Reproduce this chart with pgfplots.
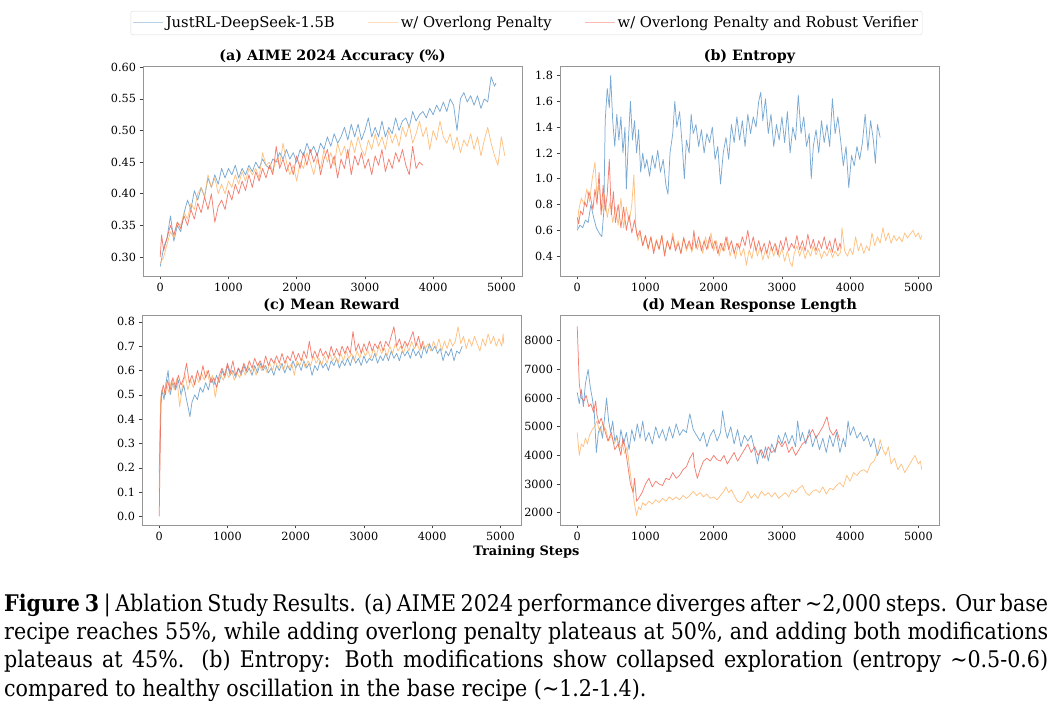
\documentclass[border=0pt]{standalone}
\usepackage{fontspec}
\setmainfont{DejaVu Serif}
\newfontfamily\capfont[FakeStretch=0.9]{DejaVu Serif}
\usepackage{pgfplots}
\pgfplotsset{compat=1.18}

\definecolor{spine}{RGB}{150,150,150}
\definecolor{blueC}{RGB}{98,154,202}
\definecolor{orangeC}{RGB}{253,183,108}
\definecolor{redC}{RGB}{240,104,88}

\pgfplotsset{
  panel/.style={
    scale only axis, width=379bp, height=210bp,
    xmin=-252.5, xmax=5302.5,
    xtick={0,1000,2000,3000,4000,5000},
    axis line style={spine, line width=0.8bp},
    tick align=outside, major tick length=3.5bp,
    tick style={black!75, line width=0.6bp},
    xtick pos=bottom, ytick pos=left,
    ticklabel style={font=\fontsize{11.3}{13}\selectfont},
    /pgf/number format/assume math mode=true,
    /pgf/number format/1000 sep={},
    scaled ticks=false,
    title style={font=\fontsize{14.3}{16}\selectfont\bfseries,
      at={(0.5,1)}, anchor=base, inner sep=0pt},
    every axis plot/.append style={line width=0.75bp, opacity=0.85, line join=round},
  },
  blueL/.style={blueC},
  orangeL/.style={orangeC},
  redL/.style={redC},
}

\begin{document}
\begin{tikzpicture}
\path[use as bounding box] (0bp,0bp) rectangle (1056bp,708bp);

% (a) AIME accuracy
\begin{axis}[panel, at={(143bp,432bp)},
  ymin=0.270, ymax=0.602,
  ytick={0.30,0.35,0.40,0.45,0.50,0.55,0.60},
  yticklabel style={/pgf/number format/.cd, fixed, fixed zerofill, precision=2},
  title={(a) AIME 2024 Accuracy (\%)},
  legend columns=3,
  legend style={at={(1.0119,1.2048)}, anchor=center, draw={rgb,255:red,220;green,220;blue,220},
    rounded corners=2bp, font=\fontsize{14.8}{17}\selectfont, inner ysep=3.5bp, inner xsep=2bp,
    /tikz/every even column/.append style={column sep=31bp}},
  legend image code/.code={\draw[#1, opacity=0.45, line width=1bp] (0bp,0bp) -- (30bp,0bp);},
]
\addplot[blueL] coordinates {(0,0.285)(50,0.315)(100,0.33)(150,0.365)(200,0.325)(250,0.35)(300,0.34)(350,0.37)(400,0.39)(450,0.375)(500,0.405)(550,0.39)(600,0.41)(650,0.395)(700,0.425)(750,0.41)(800,0.43)(850,0.415)(900,0.44)(950,0.425)(1000,0.44)(1050,0.43)(1100,0.445)(1150,0.425)(1200,0.44)(1250,0.43)(1300,0.445)(1350,0.435)(1400,0.45)(1450,0.44)(1500,0.455)(1550,0.445)(1600,0.44)(1650,0.455)(1700,0.45)(1750,0.465)(1800,0.455)(1850,0.47)(1900,0.455)(1950,0.465)(2000,0.45)(2050,0.47)(2100,0.46)(2150,0.48)(2200,0.465)(2250,0.475)(2300,0.46)(2350,0.48)(2400,0.47)(2450,0.49)(2500,0.475)(2550,0.495)(2600,0.48)(2650,0.49)(2700,0.505)(2750,0.485)(2800,0.51)(2850,0.49)(2900,0.51)(2950,0.485)(3000,0.5)(3050,0.52)(3100,0.49)(3150,0.505)(3200,0.49)(3250,0.515)(3300,0.49)(3350,0.505)(3400,0.495)(3450,0.52)(3500,0.5)(3550,0.515)(3600,0.52)(3650,0.505)(3700,0.53)(3750,0.515)(3800,0.525)(3850,0.53)(3900,0.52)(3950,0.535)(4000,0.525)(4050,0.54)(4100,0.53)(4150,0.545)(4200,0.53)(4250,0.55)(4300,0.54)(4350,0.50)(4400,0.55)(4450,0.56)(4500,0.545)(4550,0.555)(4600,0.54)(4650,0.555)(4700,0.535)(4750,0.55)(4800,0.545)(4850,0.585)(4900,0.57)(4920,0.575)};
\addlegendentry{JustRL-DeepSeek-1.5B}
\addplot[orangeL] coordinates {(0,0.29)(50,0.30)(100,0.32)(150,0.34)(200,0.33)(250,0.355)(300,0.35)(350,0.37)(400,0.36)(450,0.385)(500,0.375)(550,0.40)(600,0.41)(650,0.395)(700,0.43)(750,0.41)(800,0.425)(850,0.40)(900,0.415)(950,0.40)(1000,0.42)(1050,0.41)(1100,0.43)(1150,0.415)(1200,0.435)(1250,0.42)(1300,0.44)(1350,0.43)(1400,0.44)(1450,0.425)(1500,0.465)(1550,0.445)(1600,0.45)(1650,0.435)(1700,0.455)(1750,0.445)(1800,0.48)(1850,0.45)(1900,0.43)(1950,0.445)(2000,0.42)(2050,0.45)(2100,0.44)(2150,0.465)(2200,0.45)(2250,0.43)(2300,0.455)(2350,0.44)(2400,0.47)(2450,0.45)(2500,0.465)(2550,0.445)(2600,0.48)(2650,0.46)(2700,0.475)(2750,0.455)(2800,0.485)(2850,0.465)(2900,0.49)(2950,0.47)(3000,0.46)(3050,0.485)(3100,0.47)(3150,0.495)(3200,0.475)(3250,0.49)(3300,0.47)(3350,0.5)(3400,0.48)(3450,0.495)(3500,0.475)(3550,0.505)(3600,0.49)(3650,0.51)(3700,0.48)(3750,0.495)(3800,0.515)(3850,0.49)(3900,0.505)(3950,0.47)(4000,0.50)(4050,0.485)(4100,0.515)(4150,0.49)(4200,0.48)(4250,0.495)(4300,0.47)(4350,0.49)(4400,0.465)(4450,0.485)(4500,0.475)(4550,0.495)(4600,0.47)(4650,0.49)(4700,0.46)(4750,0.485)(4800,0.505)(4850,0.48)(4900,0.46)(4950,0.445)(5000,0.49)(5050,0.46)};
\addlegendentry{w/ Overlong Penalty}
\addplot[redL] coordinates {(0,0.30)(20,0.335)(50,0.31)(100,0.33)(150,0.35)(200,0.335)(250,0.355)(300,0.345)(350,0.365)(400,0.35)(450,0.375)(500,0.36)(550,0.385)(600,0.37)(650,0.395)(700,0.375)(750,0.40)(800,0.355)(850,0.38)(900,0.39)(950,0.375)(1000,0.405)(1050,0.39)(1100,0.415)(1150,0.40)(1200,0.42)(1250,0.405)(1300,0.43)(1350,0.41)(1400,0.435)(1450,0.42)(1500,0.44)(1550,0.425)(1600,0.445)(1650,0.43)(1700,0.475)(1750,0.44)(1800,0.455)(1850,0.435)(1900,0.45)(1950,0.43)(2000,0.46)(2050,0.44)(2100,0.465)(2150,0.445)(2200,0.47)(2250,0.45)(2300,0.465)(2350,0.43)(2400,0.455)(2450,0.47)(2500,0.44)(2550,0.46)(2600,0.425)(2650,0.455)(2700,0.44)(2750,0.47)(2800,0.43)(2850,0.46)(2900,0.445)(2950,0.465)(3000,0.44)(3050,0.455)(3100,0.43)(3150,0.46)(3200,0.445)(3250,0.47)(3300,0.435)(3350,0.455)(3400,0.44)(3450,0.465)(3500,0.45)(3550,0.47)(3600,0.445)(3650,0.43)(3700,0.475)(3750,0.44)(3800,0.45)(3850,0.445)};
\addlegendentry{w/ Overlong Penalty and Robust Verifier}
\end{axis}

% (b) Entropy
\begin{axis}[panel, at={(560bp,432bp)},
  ymin=0.246, ymax=1.874,
  ytick={0.4,0.6,0.8,1.0,1.2,1.4,1.6,1.8},
  yticklabel style={/pgf/number format/.cd, fixed, fixed zerofill, precision=1},
  title={(b) Entropy},
]
\addplot[blueL] coordinates {(0,0.60)(40,0.64)(80,0.62)(120,0.68)(160,0.66)(200,0.80)(240,0.70)(280,0.62)(320,0.58)(360,0.55)(390,0.75)(410,1.45)(440,1.70)(470,1.55)(490,1.80)(520,1.45)(550,1.25)(580,1.50)(610,1.30)(640,1.48)(670,1.20)(700,1.40)(720,0.92)(750,1.30)(780,1.60)(810,1.30)(840,1.45)(870,1.20)(900,1.38)(930,1.05)(960,1.20)(990,1.08)(1020,1.15)(1060,1.02)(1100,1.18)(1140,1.08)(1180,1.22)(1220,1.05)(1260,1.15)(1300,0.95)(1330,0.88)(1360,1.20)(1400,1.35)(1430,1.60)(1460,1.40)(1500,1.52)(1540,1.25)(1570,1.00)(1600,1.30)(1640,1.20)(1670,1.50)(1700,1.35)(1740,1.42)(1780,1.25)(1820,1.38)(1860,1.20)(1900,1.35)(1940,1.28)(1980,1.40)(2020,1.15)(2060,1.25)(2100,0.96)(2140,1.20)(2180,1.32)(2220,1.15)(2260,1.42)(2300,1.28)(2340,1.48)(2380,1.30)(2420,1.45)(2460,1.25)(2500,1.50)(2540,1.35)(2580,1.48)(2620,1.40)(2660,1.60)(2690,1.67)(2720,1.45)(2760,1.62)(2800,1.35)(2840,1.50)(2880,1.25)(2920,1.42)(2960,1.30)(3000,1.48)(3040,1.28)(3080,1.52)(3120,1.20)(3160,1.40)(3200,1.30)(3240,1.65)(3280,1.35)(3320,1.48)(3360,1.25)(3400,1.35)(3430,1.00)(3460,1.25)(3500,1.38)(3540,1.20)(3580,1.45)(3620,1.28)(3660,1.42)(3700,1.25)(3740,1.62)(3780,1.35)(3820,1.48)(3860,1.30)(3900,1.10)(3940,1.25)(3980,0.93)(4020,1.18)(4060,1.10)(4100,1.25)(4140,1.15)(4180,1.28)(4220,1.50)(4260,1.22)(4300,1.45)(4340,1.30)(4370,1.12)(4400,1.42)(4440,1.32)};
\addplot[orangeL] coordinates {(0,0.60)(20,0.75)(60,0.85)(100,0.80)(140,0.92)(180,0.82)(220,1.00)(260,1.13)(290,0.85)(320,0.95)(360,0.75)(400,0.88)(440,0.70)(480,0.82)(520,0.66)(560,0.78)(600,0.64)(640,0.85)(680,0.62)(720,0.78)(760,0.66)(800,0.80)(830,1.03)(860,0.62)(890,0.52)(920,0.58)(960,0.48)(1000,0.56)(1040,0.45)(1080,0.55)(1120,0.44)(1160,0.53)(1200,0.46)(1240,0.56)(1280,0.42)(1320,0.52)(1360,0.45)(1400,0.58)(1440,0.46)(1480,0.52)(1520,0.42)(1560,0.55)(1600,0.44)(1640,0.50)(1680,0.43)(1720,0.54)(1760,0.45)(1800,0.52)(1840,0.42)(1880,0.55)(1920,0.46)(1960,0.58)(2000,0.44)(2040,0.52)(2080,0.40)(2120,0.50)(2160,0.44)(2200,0.55)(2240,0.40)(2280,0.48)(2320,0.38)(2360,0.50)(2400,0.40)(2440,0.46)(2480,0.33)(2520,0.45)(2560,0.38)(2600,0.50)(2640,0.40)(2680,0.47)(2720,0.37)(2760,0.45)(2800,0.38)(2840,0.47)(2880,0.40)(2920,0.48)(2960,0.39)(3000,0.46)(3040,0.36)(3080,0.44)(3120,0.35)(3150,0.32)(3180,0.42)(3220,0.48)(3260,0.40)(3300,0.47)(3340,0.38)(3380,0.45)(3420,0.40)(3460,0.48)(3500,0.41)(3540,0.46)(3580,0.38)(3620,0.44)(3660,0.40)(3700,0.46)(3740,0.39)(3780,0.44)(3820,0.40)(3860,0.43)(3880,0.62)(3920,0.44)(3960,0.40)(4000,0.46)(4040,0.41)(4080,0.55)(4120,0.44)(4160,0.50)(4200,0.42)(4240,0.48)(4280,0.44)(4320,0.58)(4360,0.48)(4400,0.55)(4440,0.50)(4480,0.62)(4520,0.52)(4560,0.58)(4600,0.50)(4640,0.56)(4680,0.52)(4720,0.55)(4760,0.51)(4800,0.58)(4840,0.54)(4880,0.57)(4920,0.60)(4960,0.55)(5000,0.58)(5030,0.53)(5050,0.56)};
\addplot[redL] coordinates {(0,0.70)(20,0.65)(50,0.75)(80,0.72)(110,0.82)(140,0.78)(170,0.90)(200,0.84)(230,0.76)(260,0.92)(290,0.80)(320,1.05)(350,0.72)(380,0.95)(410,0.75)(440,0.88)(470,1.15)(500,0.72)(530,0.90)(560,0.66)(600,0.80)(640,0.62)(680,0.78)(720,0.60)(760,0.72)(800,0.58)(840,0.68)(880,0.55)(920,0.60)(960,0.48)(1000,0.56)(1040,0.46)(1080,0.55)(1120,0.42)(1160,0.52)(1200,0.45)(1240,0.56)(1280,0.40)(1320,0.52)(1360,0.45)(1400,0.55)(1440,0.44)(1480,0.50)(1520,0.42)(1560,0.54)(1600,0.46)(1640,0.52)(1680,0.45)(1710,0.60)(1740,0.46)(1780,0.55)(1820,0.44)(1860,0.52)(1900,0.45)(1940,0.55)(1980,0.46)(2020,0.52)(2060,0.42)(2100,0.50)(2140,0.44)(2180,0.55)(2220,0.45)(2260,0.52)(2300,0.42)(2340,0.50)(2380,0.46)(2420,0.55)(2460,0.48)(2500,0.60)(2540,0.46)(2580,0.55)(2620,0.44)(2660,0.52)(2700,0.43)(2740,0.50)(2780,0.42)(2820,0.52)(2860,0.44)(2900,0.50)(2940,0.41)(2980,0.52)(3020,0.45)(3060,0.55)(3100,0.44)(3140,0.50)(3180,0.46)(3220,0.56)(3260,0.45)(3300,0.52)(3340,0.44)(3380,0.57)(3420,0.46)(3460,0.53)(3500,0.44)(3540,0.52)(3580,0.46)(3620,0.55)(3660,0.45)(3700,0.52)(3740,0.43)(3780,0.54)(3820,0.44)(3850,0.50)(3870,0.46)};
\end{axis}

% (c) Mean reward
\begin{axis}[panel, at={(142bp,183bp)},
  ymin=-0.035, ymax=0.828,
  ytick={0,0.1,0.2,0.3,0.4,0.5,0.6,0.7,0.8},
  yticklabel style={/pgf/number format/.cd, fixed, fixed zerofill, precision=1},
  title={(c) Mean Reward},
]
\addplot[blueL] coordinates {(0,0.18)(20,0.45)(40,0.52)(70,0.48)(100,0.55)(130,0.60)(160,0.50)(200,0.55)(240,0.52)(280,0.56)(320,0.50)(360,0.54)(400,0.48)(430,0.44)(450,0.41)(480,0.47)(520,0.50)(560,0.48)(600,0.53)(640,0.51)(680,0.55)(720,0.52)(760,0.57)(800,0.54)(840,0.58)(880,0.55)(920,0.60)(960,0.57)(1000,0.62)(1040,0.58)(1080,0.60)(1120,0.57)(1160,0.61)(1200,0.58)(1240,0.62)(1280,0.59)(1320,0.61)(1360,0.58)(1400,0.62)(1440,0.59)(1480,0.63)(1520,0.60)(1560,0.62)(1600,0.59)(1640,0.61)(1680,0.58)(1720,0.62)(1760,0.60)(1800,0.63)(1840,0.59)(1880,0.62)(1920,0.60)(1960,0.64)(2000,0.61)(2040,0.63)(2080,0.60)(2120,0.64)(2160,0.61)(2200,0.63)(2240,0.58)(2280,0.62)(2320,0.60)(2360,0.64)(2400,0.61)(2440,0.63)(2480,0.60)(2520,0.64)(2560,0.62)(2600,0.65)(2640,0.61)(2680,0.64)(2720,0.62)(2760,0.65)(2800,0.62)(2840,0.66)(2880,0.63)(2920,0.65)(2960,0.62)(3000,0.66)(3040,0.63)(3080,0.65)(3120,0.64)(3160,0.67)(3200,0.63)(3240,0.66)(3280,0.64)(3320,0.67)(3360,0.64)(3400,0.68)(3440,0.65)(3480,0.67)(3520,0.64)(3560,0.68)(3600,0.66)(3640,0.68)(3680,0.65)(3720,0.69)(3760,0.66)(3800,0.68)(3840,0.65)(3880,0.70)(3920,0.67)(3960,0.71)(4000,0.68)(4040,0.70)(4080,0.67)(4120,0.69)(4160,0.64)(4200,0.68)(4240,0.66)(4280,0.69)(4320,0.64)(4360,0.68)(4400,0.67)(4440,0.70)};
\addplot[orangeL] coordinates {(0,0.10)(20,0.48)(40,0.52)(70,0.50)(100,0.55)(140,0.51)(180,0.56)(220,0.52)(260,0.57)(300,0.45)(340,0.54)(380,0.58)(420,0.52)(460,0.56)(500,0.53)(540,0.58)(580,0.55)(620,0.59)(660,0.56)(700,0.60)(740,0.55)(780,0.58)(820,0.49)(860,0.55)(900,0.58)(940,0.56)(980,0.60)(1020,0.57)(1060,0.60)(1100,0.56)(1140,0.59)(1180,0.57)(1220,0.61)(1260,0.58)(1300,0.62)(1340,0.59)(1380,0.62)(1420,0.58)(1460,0.63)(1500,0.60)(1540,0.62)(1580,0.59)(1620,0.63)(1660,0.60)(1700,0.64)(1740,0.61)(1780,0.63)(1820,0.60)(1860,0.64)(1900,0.61)(1940,0.63)(1980,0.58)(2020,0.64)(2060,0.62)(2100,0.65)(2140,0.61)(2180,0.64)(2220,0.62)(2260,0.66)(2300,0.63)(2340,0.65)(2380,0.62)(2420,0.66)(2460,0.63)(2500,0.67)(2540,0.64)(2580,0.66)(2620,0.63)(2660,0.67)(2700,0.64)(2740,0.68)(2780,0.65)(2820,0.67)(2860,0.64)(2900,0.68)(2940,0.65)(2980,0.69)(3020,0.66)(3060,0.68)(3100,0.65)(3140,0.69)(3180,0.66)(3220,0.70)(3260,0.67)(3300,0.69)(3340,0.66)(3380,0.70)(3420,0.67)(3460,0.71)(3500,0.68)(3540,0.70)(3580,0.67)(3620,0.71)(3660,0.68)(3700,0.72)(3740,0.69)(3780,0.71)(3820,0.68)(3860,0.72)(3900,0.69)(3940,0.71)(3980,0.68)(4020,0.72)(4060,0.69)(4100,0.73)(4140,0.68)(4180,0.72)(4220,0.69)(4260,0.73)(4300,0.70)(4340,0.72)(4380,0.78)(4420,0.71)(4460,0.74)(4500,0.69)(4540,0.73)(4580,0.70)(4620,0.74)(4660,0.71)(4700,0.68)(4740,0.73)(4780,0.70)(4820,0.75)(4860,0.71)(4900,0.74)(4940,0.70)(4980,0.73)(5020,0.70)(5040,0.75)(5050,0.71)};
\addplot[redL] coordinates {(0,0.00)(15,0.30)(30,0.50)(60,0.54)(90,0.50)(120,0.56)(160,0.52)(200,0.57)(240,0.53)(280,0.58)(320,0.54)(360,0.57)(400,0.63)(440,0.55)(480,0.58)(520,0.54)(560,0.60)(600,0.56)(640,0.62)(680,0.57)(720,0.60)(760,0.55)(800,0.57)(840,0.53)(880,0.58)(920,0.61)(960,0.58)(1000,0.63)(1040,0.59)(1080,0.64)(1120,0.58)(1160,0.61)(1200,0.59)(1240,0.63)(1280,0.60)(1320,0.64)(1360,0.61)(1400,0.65)(1440,0.62)(1480,0.64)(1520,0.61)(1560,0.66)(1600,0.62)(1640,0.65)(1680,0.63)(1720,0.66)(1760,0.63)(1800,0.67)(1840,0.63)(1880,0.66)(1920,0.64)(1960,0.68)(2000,0.64)(2040,0.67)(2080,0.64)(2120,0.68)(2160,0.65)(2200,0.72)(2240,0.65)(2280,0.68)(2320,0.65)(2360,0.69)(2400,0.66)(2440,0.68)(2480,0.65)(2520,0.70)(2560,0.66)(2600,0.69)(2640,0.66)(2680,0.70)(2720,0.67)(2760,0.70)(2800,0.67)(2840,0.76)(2880,0.68)(2920,0.71)(2960,0.67)(3000,0.71)(3040,0.68)(3080,0.72)(3120,0.68)(3160,0.71)(3200,0.69)(3240,0.72)(3280,0.68)(3320,0.72)(3360,0.70)(3400,0.74)(3440,0.78)(3480,0.70)(3520,0.73)(3560,0.69)(3600,0.72)(3640,0.70)(3680,0.73)(3720,0.76)(3760,0.70)(3800,0.74)(3840,0.69)(3870,0.72)};
\end{axis}

% (d) Mean response length
\begin{axis}[panel, at={(560bp,183bp)},
  ymin=1570, ymax=8900,
  ytick={2000,3000,4000,5000,6000,7000,8000},
  title={(d) Mean Response Length},
]
\addplot[blueL] coordinates {(0,6200)(30,5800)(60,6300)(90,5700)(120,6500)(160,7000)(190,6400)(220,6000)(250,5500)(280,4100)(310,4800)(340,5000)(370,4600)(400,5300)(430,6000)(460,5200)(490,4800)(520,5200)(550,4500)(580,4700)(610,4300)(640,4900)(680,4400)(720,4800)(760,4200)(800,4900)(840,4500)(880,5100)(920,4600)(960,5200)(1000,4500)(1050,4800)(1100,4400)(1150,5000)(1200,4600)(1250,4900)(1300,4500)(1350,5000)(1400,4600)(1450,5100)(1500,4700)(1550,4900)(1600,4800)(1650,5450)(1700,4900)(1750,4700)(1800,4500)(1850,4800)(1900,4300)(1950,4700)(2000,4900)(2050,4500)(2100,4800)(2130,5550)(2170,4900)(2200,4600)(2250,5000)(2300,4400)(2350,4900)(2400,4300)(2450,4700)(2500,4500)(2550,4700)(2600,4200)(2640,3700)(2680,4200)(2720,3900)(2760,4300)(2800,3800)(2850,4400)(2900,4100)(2950,4700)(3000,4400)(3050,4800)(3100,4400)(3150,4700)(3200,4300)(3230,5200)(3270,4500)(3300,4800)(3350,4400)(3400,4900)(3450,4300)(3500,4700)(3550,4200)(3600,4600)(3650,4100)(3700,4700)(3750,4300)(3800,4800)(3850,4100)(3900,4600)(3930,4300)(3970,5200)(4000,4700)(4050,5000)(4100,4600)(4150,4800)(4200,4500)(4250,4700)(4300,4300)(4350,4600)(4400,4000)(4450,4300)};
\addplot[orangeL] coordinates {(0,4800)(30,4000)(60,4400)(90,4300)(120,4600)(150,4400)(180,4700)(220,4900)(250,5000)(290,5200)(330,4800)(370,5100)(420,4900)(460,4500)(500,4700)(540,4400)(580,4600)(620,4200)(660,4400)(700,4050)(730,4300)(760,3700)(800,3000)(840,2300)(870,1900)(900,2200)(930,2100)(960,2350)(1000,2250)(1050,2400)(1100,2300)(1150,2450)(1200,2350)(1250,2500)(1300,2400)(1350,2550)(1400,2450)(1450,2550)(1500,2450)(1550,2600)(1600,2500)(1650,2600)(1700,2750)(1750,2600)(1800,2700)(1850,2550)(1900,2650)(1950,2500)(2000,2550)(2050,2450)(2100,2600)(2150,2750)(2180,2900)(2220,2700)(2260,2800)(2300,2600)(2350,2400)(2400,2350)(2450,2500)(2500,2750)(2550,2500)(2600,2650)(2650,2500)(2700,2750)(2750,2600)(2800,2700)(2850,2550)(2900,2700)(2950,2500)(3000,2600)(3050,2700)(3100,2550)(3150,2800)(3200,2700)(3250,2850)(3300,2950)(3350,2700)(3400,2600)(3450,2750)(3500,2800)(3550,2700)(3600,2900)(3650,2650)(3700,2850)(3750,2800)(3800,2950)(3850,3050)(3900,2900)(3950,3300)(4000,3100)(4050,3400)(4100,3300)(4150,3450)(4200,3500)(4250,3400)(4300,3700)(4350,3800)(4400,4100)(4440,4550)(4480,4200)(4520,4000)(4560,4300)(4600,3700)(4650,3900)(4700,3500)(4750,3700)(4800,3400)(4850,3600)(4900,3800)(4950,4000)(5000,3700)(5030,3800)(5050,3500)};
\addplot[redL] coordinates {(0,8500)(15,7500)(30,6500)(60,6000)(100,5900)(130,6100)(170,5700)(200,5800)(240,5500)(270,5900)(290,5400)(320,5100)(350,5300)(400,4900)(450,4500)(500,4800)(550,4200)(600,4400)(640,4000)(670,4600)(700,4300)(720,4000)(750,3500)(780,3000)(820,2700)(840,3200)(870,2400)(900,2500)(950,2700)(1000,3000)(1050,3200)(1100,2900)(1150,3100)(1200,3000)(1250,2950)(1300,3200)(1350,3150)(1400,3400)(1450,3200)(1500,3300)(1550,3500)(1600,3600)(1650,3900)(1700,4100)(1720,3600)(1760,3200)(1800,3500)(1850,3800)(1900,3900)(1950,3800)(2000,4000)(2050,3850)(2100,3800)(2150,4000)(2200,3700)(2250,3900)(2300,4100)(2350,3800)(2400,4000)(2450,4200)(2500,4400)(2550,4100)(2600,4300)(2650,4000)(2700,4200)(2750,3900)(2800,4300)(2850,4100)(2900,4200)(2950,4500)(3000,4300)(3050,4500)(3100,4100)(3150,4300)(3200,4000)(3250,4200)(3300,4400)(3350,4500)(3400,4700)(3450,4900)(3500,4600)(3550,4800)(3600,5000)(3660,5350)(3700,4900)(3750,4700)(3800,4900)(3850,4500)};
\end{axis}

\node[anchor=base, font=\fontsize{13}{15}\selectfont\bfseries] at (526.5bp,152bp) {Training Steps};

% caption
\begin{scope}[every node/.style={anchor=base west, inner sep=0pt, font=\capfont\fontsize{23}{28}\selectfont}]
\node at (4bp,96bp) {\makebox[1044bp][s]{\textbf{Figure 3} | Ablation Study Results. (a) AIME 2024 performance diverges after \textasciitilde2,000 steps. Our base}};
\node at (4bp,68bp) {\makebox[1044bp][s]{recipe reaches 55\%, while adding overlong penalty plateaus at 50\%, and adding both modifications}};
\node at (4bp,40bp) {\makebox[1044bp][s]{plateaus at 45\%. (b) Entropy: Both modifications show collapsed exploration (entropy \textasciitilde0.5-0.6)}};
\node at (4bp,12bp) {compared to healthy oscillation in the base recipe (\textasciitilde1.2-1.4).};
\end{scope}
\end{tikzpicture}
\end{document}
